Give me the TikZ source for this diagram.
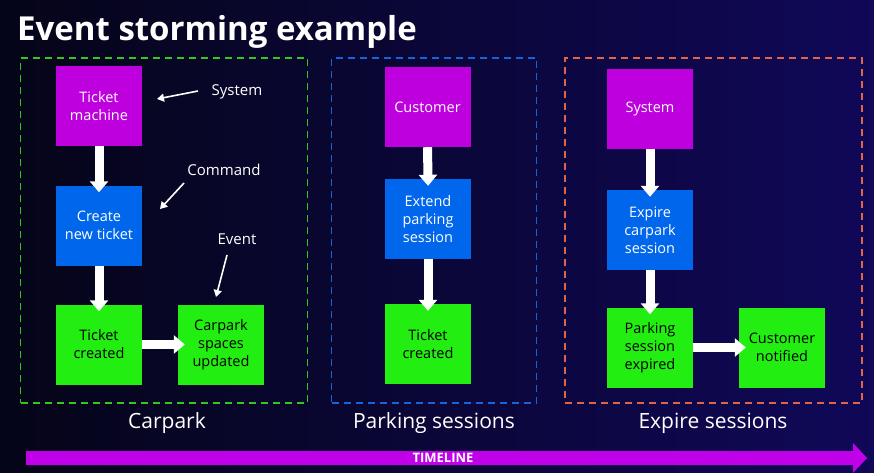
\documentclass[tikz,border=0pt]{standalone}
\usepackage{fontspec}
\setmainfont{Open Sans}
\usetikzlibrary{arrows.meta}
\definecolor{bgleft}{RGB}{5,5,24}
\definecolor{bgright}{RGB}{16,8,88}
\definecolor{sysc}{RGB}{190,0,222}
\definecolor{cmdc}{RGB}{0,102,236}
\definecolor{evtc}{RGB}{34,238,17}
\definecolor{gdash}{RGB}{50,200,30}
\definecolor{bdash}{RGB}{20,100,220}
\definecolor{odash}{RGB}{225,100,70}
\definecolor{tlc}{RGB}{192,0,232}
\tikzset{
  card/.style={minimum width=86pt, minimum height=80pt, inner sep=0pt, align=center, font=\fontsize{14.5}{18}\selectfont},
  sysbox/.style={card, fill=sysc, text=white},
  cmdbox/.style={card, fill=cmdc, text=white},
  evtbox/.style={card, fill=evtc, text=black},
  context/.style={draw, line width=1.4pt, dash pattern=on 7pt off 5pt, inner sep=0pt},
  bigarrow/.style={draw=white, line width=9pt, -{Triangle[length=11pt,width=18pt]}, shorten >=-7pt},
  notearrow/.style={draw=white, line width=1.6pt, -{Triangle[length=7pt,width=8pt]}},
  note/.style={text=white, font=\fontsize{15}{18}\selectfont},
  ctxtitle/.style={text=white, font=\fontsize{21}{24}\selectfont}
}
\begin{document}
\begin{tikzpicture}[x=1pt,y=-1pt]
\useasboundingbox (0,0) rectangle (874,472);
\shade[left color=bgleft, right color=bgright] (0,0) rectangle (874,472);
% title
\node[anchor=base west, text=white, font=\fontsize{33}{38}\bfseries\selectfont, inner sep=0pt] (title) at (17,40) {Event storming example};
% contexts
\node[context, draw=gdash, minimum width=287pt, minimum height=345pt] (carpark) at (164,230.5) {};
\node[context, draw=bdash, minimum width=205pt, minimum height=345pt] (parking) at (434,230.5) {};
\node[context, draw=odash, minimum width=297pt, minimum height=345pt] (expire) at (713.5,230.5) {};
% carpark
\node[sysbox] (tm) at (99,106) {Ticket\\machine};
\node[cmdbox] (cnt) at (99,225.5) {Create\\new ticket};
\node[evtbox] (tc1) at (99,344.5) {Ticket\\created};
\node[evtbox] (csu) at (221,344.5) {Carpark\\spaces\\updated};
\draw[bigarrow] (tm.south) -- (cnt.north);
\draw[bigarrow] (cnt.south) -- (tc1.north);
\draw[bigarrow] (tc1.east) -- (csu.west);
% notes
\node[note] (lsys) at (237,92) {System};
\node[note] (lcmd) at (224,170) {Command};
\node[note] (levt) at (237,239) {Event};
\coordinate (ssys) at (198,91);
\coordinate (psys) at (157,99);
\coordinate (scmd) at (184,183);
\coordinate (pcmd) at (160,209);
\coordinate (sevt) at (227,255);
\coordinate (pevt) at (216,297);
\draw[notearrow] (ssys) -- (psys);
\draw[notearrow] (scmd) -- (pcmd);
\draw[notearrow] (sevt) -- (pevt);
% parking sessions
\node[sysbox] (cust) at (427.5,107) {Customer};
\node[cmdbox] (ext) at (428,219) {Extend\\parking\\session};
\node[evtbox] (tc2) at (428,344) {Ticket\\created};
\draw[bigarrow] (cust.south) -- (ext.north);
\draw[bigarrow] (ext.south) -- (tc2.north);
% expire sessions
\node[sysbox] (sys) at (650,109) {System};
\node[cmdbox] (exp) at (650,230) {Expire\\carpark\\session};
\node[evtbox] (pse) at (650,347.5) {Parking\\session\\expired};
\node[evtbox] (cn) at (782,347.5) {Customer\\notified};
\draw[bigarrow] (sys.south) -- (exp.north);
\draw[bigarrow] (exp.south) -- (pse.north);
\draw[bigarrow] (pse.east) -- (cn.west);
% context titles
\node[ctxtitle] (t1) at (167,423) {Carpark};
\node[ctxtitle] (t2) at (434,423) {Parking sessions};
\node[ctxtitle] (t3) at (713,423) {Expire sessions};
% timeline
\fill[tlc] (26,451) -- (853,451) -- (853,443) -- (867,458) -- (853,473) -- (853,465) -- (26,465) -- cycle;
\node[text=white, font=\fontsize{13}{14}\bfseries\selectfont] (tl) at (443,458) {TIMELINE};
\end{tikzpicture}
\end{document}
